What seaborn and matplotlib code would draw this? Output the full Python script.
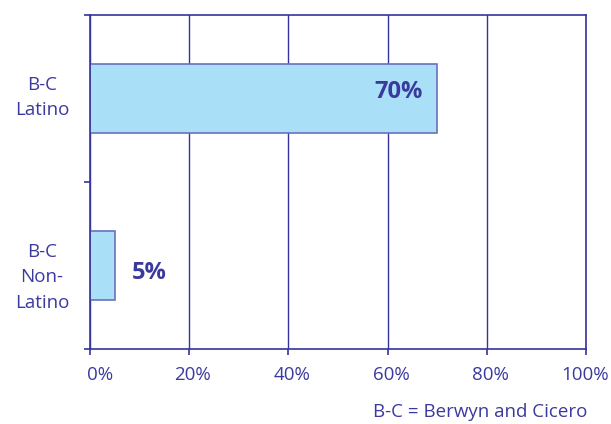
import pandas as pd
import matplotlib
matplotlib.use("Agg")
import matplotlib.pyplot as plt
import matplotlib.transforms as mtransforms
import seaborn as sns

# data
groups = ["B-C\nLatino", "B-C\nNon-\nLatino"]
shares = [70, 5]
value_labels = ["70%", "5%"]
x_ticks = [0, 20, 40, 60, 80, 100]
x_tick_labels = ["0%", "20%", "40%", "60%", "80%", "100%"]
footnote = "B-C = Berwyn and Cicero"

navy = "#34349c"
text_col = "#3a3a9e"
bar_fill = "#aadff8"
bar_edge = "#6c70bd"

sns.set_theme(style="white")
plt.rcParams['font.family'] = ['Open Sans', 'DejaVu Sans']

df = pd.DataFrame({"group": groups, "share": shares})

fig = plt.figure(figsize=(6.11, 4.24), dpi=100)
ax = fig.add_axes([90 / 611, 1 - 349 / 424, 496 / 611, 334 / 424])

sns.barplot(data=df, x="share", y="group", orient="h", color=bar_fill,
            width=0.41, edgecolor=bar_edge, linewidth=1.2, saturation=1, ax=ax)

ax.set_xlim(0, 100)
ax.set_ylim(1.5, -0.5)
ax.set_xticks(x_ticks)
ax.set_xticklabels(x_tick_labels)
ax.set_xlabel("")
ax.set_ylabel("")

# vertical grid lines
ax.set_axisbelow(True)
ax.xaxis.grid(True, color=navy, linewidth=1.0)
ax.yaxis.grid(False)

for s in ax.spines.values():
    s.set_color(navy)
    s.set_linewidth(1.2)
    s.set_visible(True)

# category boundary ticks on the y axis
ax.set_yticks([-0.5, 0.5, 1.5], minor=True)
ax.tick_params(axis="y", which="major", length=0, pad=15, labelsize=13.5, labelcolor=text_col)
ax.tick_params(axis="y", which="minor", left=True, length=4, width=1.2, color=navy)
ax.tick_params(axis="x", which="major", bottom=True, length=4, width=1.2, color=navy,
               pad=8, labelsize=13.5, labelcolor=text_col)

# labels in the original sit a little off their tick positions
y_shift = [7, -6]
for lab, dy in zip(ax.get_yticklabels(), y_shift):
    lab.set_multialignment("center")
    lab.set_linespacing(1.55)
    lab.set_transform(lab.get_transform() + mtransforms.ScaledTranslation(0, dy / 100, fig.dpi_scale_trans))

x_shift = [10, 3.5, 3.5, 3.5, 3.5, -1]
for lab, dx in zip(ax.get_xticklabels(), x_shift):
    lab.set_transform(lab.get_transform() + mtransforms.ScaledTranslation(dx / 100, 0, fig.dpi_scale_trans))

# value labels
ax.text(shares[0] - 3, -0.04, value_labels[0], ha="right", va="center",
        fontsize=17, fontweight="bold", color=text_col)
ax.text(shares[1] + 3.5, 1.045, value_labels[1], ha="left", va="center",
        fontsize=17, fontweight="bold", color=text_col)

fig.text(0.962, 1 - 412 / 424, footnote, ha="right", va="center",
         fontsize=13.5, color=text_col)

fig.savefig("out.png", dpi=100)
